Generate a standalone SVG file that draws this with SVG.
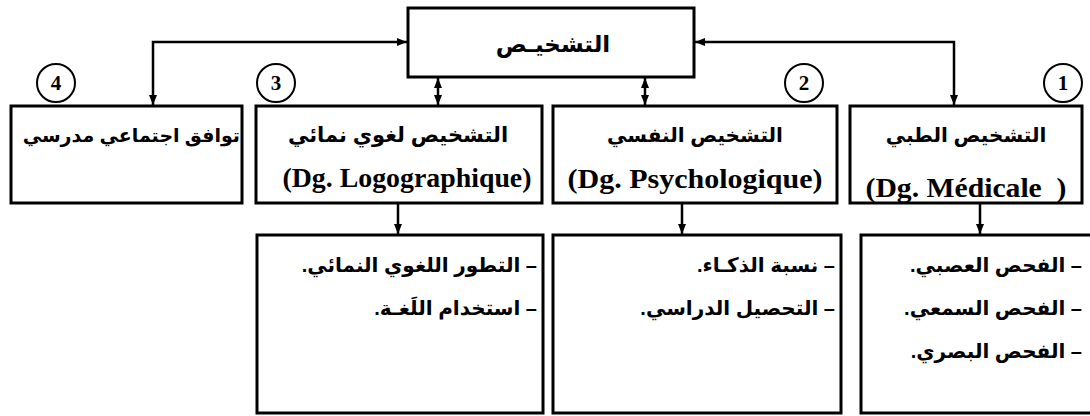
<svg xmlns="http://www.w3.org/2000/svg" width="1090" height="416" viewBox="0 0 1090 416">
<style>
.box{fill:#fff;stroke:#000;stroke-width:3}
.circ{fill:#fff;stroke:#000;stroke-width:2}
.con{fill:none;stroke:#000;stroke-width:2.5}
.ar{font-family:"Liberation Sans","DejaVu Sans",sans-serif;font-weight:bold;fill:#000}
.lat{font-family:"Liberation Serif",serif;font-weight:bold;fill:#000}
.num{font-family:"Liberation Serif",serif;font-weight:bold;font-size:21px;fill:#000;text-anchor:middle}
</style>
<defs>
<marker id="ah" viewBox="0 0 10 8" refX="10" refY="4" markerWidth="10" markerHeight="8" markerUnits="userSpaceOnUse" orient="auto-start-reverse">
<path d="M0,0 L10,4 L0,8 z" fill="#000"/>
</marker>
</defs>
<rect width="1090" height="416" fill="#fff"/>
<g id="connectors">
<path class="con" d="M153,105 V42 H407" marker-start="url(#ah)" marker-end="url(#ah)"/>
<path class="con" d="M954,105 V42 H695" marker-start="url(#ah)" marker-end="url(#ah)"/>
<path class="con" d="M438,78 V105" marker-start="url(#ah)" marker-end="url(#ah)"/>
<path class="con" d="M645,78 V105" marker-start="url(#ah)" marker-end="url(#ah)"/>
<path class="con" d="M398,204 V234" marker-end="url(#ah)"/>
<path class="con" d="M682,204 V234" marker-end="url(#ah)"/>
<path class="con" d="M980,204 V234" marker-end="url(#ah)"/>
</g>
<g id="root">
<rect class="box" x="408" y="8" width="286" height="69"/>
<text class="ar" x="553" y="52" font-size="23" text-anchor="middle" direction="rtl">التشخيـص</text>
</g>
<g id="n4">
<circle class="circ" cx="56" cy="83" r="19"/>
<text class="num" x="56" y="90">4</text>
<rect class="box" x="11" y="106" width="231" height="97"/>
<text class="ar" x="240" y="142" font-size="19" direction="rtl" text-anchor="start">توافق اجتماعي مدرسي</text>
</g>
<g id="n3">
<circle class="circ" cx="276" cy="83" r="19"/>
<text class="num" x="276" y="90">3</text>
<rect class="box" x="256" y="106" width="286" height="97"/>
<text class="ar" x="398" y="142" font-size="21" text-anchor="middle" direction="rtl">التشخيص لغوي نمائي</text>
<text class="lat" x="407" y="187" font-size="27" text-anchor="middle" textLength="249" lengthAdjust="spacingAndGlyphs">(Dg. Logographique)</text>
</g>
<g id="n2">
<circle class="circ" cx="804" cy="83" r="19"/>
<text class="num" x="804" y="90">2</text>
<rect class="box" x="553" y="106" width="284" height="97"/>
<text class="ar" x="695" y="142" font-size="20" text-anchor="middle" direction="rtl">التشخيص النفسي</text>
<text class="lat" x="695" y="188" font-size="27" text-anchor="middle" textLength="255" lengthAdjust="spacingAndGlyphs">(Dg. Psychologique)</text>
</g>
<g id="n1">
<circle class="circ" cx="1063" cy="83" r="19"/>
<text class="num" x="1063" y="90">1</text>
<rect class="box" x="850" y="106" width="232" height="97"/>
<text class="ar" x="966" y="142" font-size="20" text-anchor="middle" direction="rtl">التشخيص الطبي</text>
<text class="lat" x="966" y="197" font-size="27" text-anchor="middle" xml:space="preserve" textLength="201" lengthAdjust="spacingAndGlyphs">(Dg. Médicale  )</text>
</g>
<g id="d3">
<rect class="box" x="257" y="235" width="286" height="178"/>
<text class="ar" x="537" y="272" font-size="20" direction="rtl" text-anchor="start">– التطور اللغوي النمائي.</text>
<text class="ar" x="537" y="315" font-size="20" direction="rtl" text-anchor="start">– استخدام اللَغـة.</text>
</g>
<g id="d2">
<rect class="box" x="553" y="235" width="288" height="178"/>
<text class="ar" x="835" y="272" font-size="20" direction="rtl" text-anchor="start">– نسبة الذكـاء.</text>
<text class="ar" x="835" y="315" font-size="20" direction="rtl" text-anchor="start">– التحصيل الدراسي.</text>
</g>
<g id="d1">
<rect class="box" x="861" y="235" width="240" height="178"/>
<text class="ar" x="1082" y="272" font-size="20" direction="rtl" text-anchor="start">– الفحص العصبي.</text>
<text class="ar" x="1082" y="315" font-size="20" direction="rtl" text-anchor="start">– الفحص السمعي.</text>
<text class="ar" x="1082" y="358" font-size="20" direction="rtl" text-anchor="start">– الفحص البصري.</text>
</g>
</svg>
